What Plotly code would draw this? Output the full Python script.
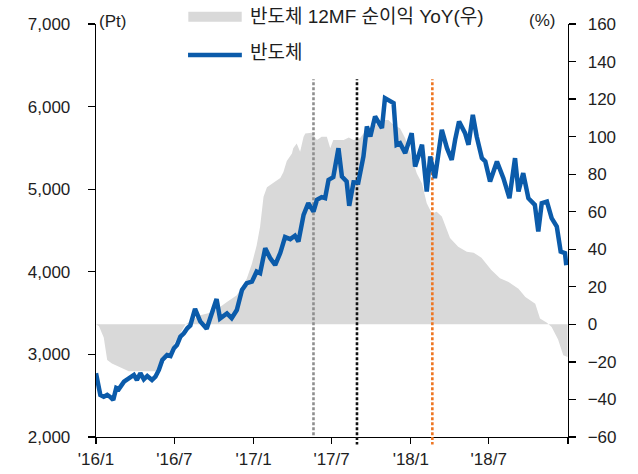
import plotly.graph_objects as go

# ---------------- data ----------------
semi_dates = [
    "2016-01-01", "2016-01-11", "2016-01-19", "2016-01-27", "2016-02-03", "2016-02-10",
    "2016-02-17", "2016-02-23", "2016-03-06", "2016-03-21", "2016-03-29", "2016-04-05",
    "2016-04-13", "2016-04-21", "2016-04-29", "2016-05-10", "2016-05-18", "2016-05-26",
    "2016-06-03", "2016-06-14", "2016-06-22", "2016-06-30", "2016-07-07", "2016-07-15",
    "2016-07-23", "2016-07-31", "2016-08-07", "2016-08-18", "2016-08-30", "2016-09-14",
    "2016-09-26", "2016-10-07", "2016-10-15", "2016-10-31", "2016-11-11", "2016-11-23",
    "2016-12-05", "2016-12-16", "2016-12-28", "2017-01-08", "2017-01-16", "2017-01-28",
    "2017-02-08", "2017-02-20", "2017-03-04", "2017-03-15", "2017-03-27", "2017-04-07",
    "2017-04-15", "2017-04-19", "2017-04-27", "2017-05-08", "2017-05-20", "2017-05-28",
    "2017-06-08", "2017-06-16", "2017-06-24", "2017-07-05", "2017-07-17", "2017-07-25",
    "2017-08-05", "2017-08-11", "2017-08-21", "2017-09-01", "2017-09-13", "2017-09-21",
    "2017-09-29", "2017-10-10", "2017-10-18", "2017-10-26", "2017-11-02", "2017-11-14",
    "2017-11-22", "2017-11-29", "2017-12-07", "2017-12-19", "2018-01-03", "2018-01-11",
    "2018-01-27", "2018-02-07", "2018-02-15", "2018-02-26", "2018-03-14", "2018-03-26",
    "2018-04-06", "2018-04-14", "2018-04-23", "2018-05-07", "2018-05-15", "2018-05-25",
    "2018-06-03", "2018-06-15", "2018-06-23", "2018-07-04", "2018-07-20", "2018-08-04",
    "2018-08-18", "2018-08-31", "2018-09-08", "2018-09-19", "2018-10-01", "2018-10-16",
    "2018-10-24", "2018-11-01", "2018-11-13", "2018-11-24", "2018-12-06", "2018-12-15",
    "2018-12-25", "2018-12-28",
]
semi_values = [
    2772, 2509, 2488, 2509, 2485, 2448,
    2594, 2580, 2670, 2730, 2751, 2690,
    2772, 2699, 2739, 2690, 2730, 2812,
    2933, 2993, 2981, 3075, 3115, 3215,
    3256, 3317, 3350, 3550, 3400, 3310,
    3478, 3670, 3435, 3495, 3438, 3537,
    3781, 3862, 3880, 4003, 3983, 4285,
    4170, 4082, 4230, 4420, 4395, 4437,
    4366, 4480, 4690, 4831, 4730, 4871,
    4904, 4891, 5113, 5146, 5497, 5154,
    5093, 4800, 5083, 5080, 5396, 5759,
    5638, 5880, 5820, 5740, 6103, 6062,
    6042, 5538, 5558, 5437, 5679, 5275,
    5538, 4972, 5396, 5134, 5719, 5497,
    5356, 5600, 5820, 5679, 5538, 5901,
    5638, 5376, 5336, 5093, 5336, 5134,
    4891, 5376, 4972, 5194, 4891, 4811,
    4487, 4831, 4851, 4649, 4548, 4245,
    4225, 4080,
]

yoy_dates = [
    "2016-01-01", "2016-01-08", "2016-01-19", "2016-01-27", "2016-02-07", "2016-03-02",
    "2016-03-17", "2016-04-12", "2016-05-18", "2016-05-30", "2016-06-18", "2016-07-03",
    "2016-07-19", "2016-07-27", "2016-08-30", "2016-09-29", "2016-10-31", "2016-11-23",
    "2016-12-16", "2016-12-28", "2017-01-08", "2017-01-16", "2017-01-24", "2017-02-01",
    "2017-02-16", "2017-03-04", "2017-03-11", "2017-03-19", "2017-03-31", "2017-04-03",
    "2017-04-11", "2017-04-19", "2017-04-27", "2017-05-01", "2017-05-16", "2017-05-28",
    "2017-06-08", "2017-06-20", "2017-06-28", "2017-07-05", "2017-07-29", "2017-08-10",
    "2017-08-21", "2017-09-05", "2017-09-13", "2017-10-06", "2017-10-29", "2017-11-10",
    "2017-11-22", "2017-12-07", "2017-12-19", "2017-12-31", "2018-01-15", "2018-01-27",
    "2018-02-07", "2018-02-19", "2018-03-02", "2018-03-14", "2018-04-02", "2018-04-21",
    "2018-05-11", "2018-05-27", "2018-06-14", "2018-07-07", "2018-07-27", "2018-08-16",
    "2018-09-08", "2018-09-24", "2018-10-17", "2018-10-28", "2018-11-13", "2018-11-24",
    "2018-12-09", "2018-12-21", "2018-12-31",
]
yoy_values = [
    0, -1, -7, -19, -20.8, -23.4,
    -25, -25, -25, -21.5, -17, -9.2,
    -3, 0, 4.8, 6.6, 11.9, 15.5,
    24.3, 32.3, 42, 52, 68, 73,
    75.5, 78, 81, 87, 91, 93.8,
    96.4, 92, 100, 101.7, 102.1, 98.2,
    100, 100, 93.8, 98.2, 98.2, 99.6,
    98.2, 99.1, 101.7, 105.3, 108.9, 108.9,
    106.2, 104.5, 99.1, 91.1, 80.4, 75.1,
    64.5, 59.1, 60, 57.4, 46, 41.4,
    38.7, 38.2, 35.5, 29, 24.5, 22.6,
    19, 14.6, 11, 3.1, 0.9, -1.4,
    -8, -16.5, -17.4,
]

event_dates = ["2017-05-20", "2017-08-29", "2018-02-20"]
event_colors = ["#8E8E8E", "#111111", "#EE7623"]

x_tick_vals = ["2016-01-01", "2016-07-01", "2017-01-01", "2017-07-01",
               "2018-01-01", "2018-07-01", "2019-01-01"]
x_tick_text = ["'16/1", "'16/7", "'17/1", "'17/7", "'18/1", "'18/7", ""]

name_area = "반도체 12MF 순이익 YoY(우)"
name_line = "반도체"

# ---------------- figure ----------------
FONT = "Liberation Sans, Arial, Noto Sans CJK KR, sans-serif"
TXT = "#1E1E1E"
BLUE = "#0B5BAA"
GRAY_FILL = "#D9D9D9"

fig = go.Figure()

# area (right axis, primary y so that it is drawn underneath)
fig.add_trace(go.Scatter(
    x=yoy_dates, y=yoy_values, yaxis="y", mode="lines",
    line=dict(width=0, color=GRAY_FILL), fill="tozeroy", fillcolor=GRAY_FILL,
    name=name_area, hoverinfo="skip",
))

# vertical dotted event lines (left axis, drawn over the area)
for d, c in zip(event_dates, event_colors):
    fig.add_trace(go.Scatter(
        x=[d, d], y=[1900, 6330], yaxis="y2", mode="lines",
        line=dict(color=c, width=2.6, dash="3px,2px"),
        showlegend=False, hoverinfo="skip",
    ))

# semiconductor index line (left axis)
fig.add_trace(go.Scatter(
    x=semi_dates, y=semi_values, yaxis="y2", mode="lines",
    line=dict(color=BLUE, width=4.5, shape="linear"),
    name=name_line,
))

# extension of event lines just below the x axis
ext = [0.0, -0.018, -0.018]
for d, c, e in zip(event_dates, event_colors, ext):
    if e < 0:
        fig.add_shape(type="line", xref="x", yref="paper", x0=d, x1=d, y0=0, y1=e,
                      line=dict(color=c, width=2.6, dash="3px,2px"), layer="above")

fig.update_layout(
    width=638, height=474,
    margin=dict(l=96, r=70, t=24, b=37, pad=0),
    paper_bgcolor="white", plot_bgcolor="white",
    showlegend=False,
    font=dict(family=FONT, size=17, color=TXT),
    xaxis=dict(
        type="date", range=["2016-01-01", "2019-01-01"], automargin=False,
        tickmode="array", tickvals=x_tick_vals, ticktext=x_tick_text,
        ticks="outside", ticklen=6, tickwidth=1.3, tickcolor="black",
        showline=True, linecolor="black", linewidth=1.3,
        showgrid=False, zeroline=False,
        tickfont=dict(family=FONT, size=17, color=TXT),
    ),
    yaxis=dict(
        side="right", range=[-60, 160], dtick=20, tick0=0, automargin=False,
        ticks="outside", ticklen=7, tickwidth=1.3, tickcolor="black",
        showline=True, linecolor="black", linewidth=1.3,
        showgrid=False, zeroline=False,
        tickfont=dict(family=FONT, size=17, color=TXT),
        ticklabelstandoff=8,
    ),
    yaxis2=dict(
        overlaying="y", side="left", anchor="x", automargin=False,
        range=[2000, 7000], dtick=1000, tickformat=",d",
        ticks="outside", ticklen=7, tickwidth=1.3, tickcolor="black",
        showline=True, linecolor="black", linewidth=1.3,
        showgrid=False, zeroline=False,
        tickfont=dict(family=FONT, size=17, color=TXT),
        ticklabelstandoff=14,
    ),
)

# unit labels
fig.add_annotation(text="(Pt)", xref="paper", yref="paper", x=0.002, y=1.007,
                   xanchor="left", yanchor="middle", showarrow=False,
                   font=dict(family=FONT, size=17, color=TXT))
fig.add_annotation(text="(%)", xref="paper", yref="paper", x=0.977, y=1.009,
                   xanchor="right", yanchor="middle", showarrow=False,
                   font=dict(family=FONT, size=17, color=TXT))

# manual legend
fig.add_shape(type="rect", xref="paper", yref="paper",
              x0=0.1956, x1=0.3087, y0=1.0056, y1=1.0298,
              line=dict(width=0), fillcolor=GRAY_FILL, layer="above")
fig.add_annotation(text=name_area, xref="paper", yref="paper", x=0.322, y=1.019,
                   xanchor="left", yanchor="middle", showarrow=False,
                   font=dict(family=FONT, size=19, color=TXT))
fig.add_shape(type="line", xref="paper", yref="paper",
              x0=0.195, x1=0.309, y0=0.925, y1=0.925,
              line=dict(color=BLUE, width=4.5), layer="above")
fig.add_annotation(text=name_line, xref="paper", yref="paper", x=0.322, y=0.930,
                   xanchor="left", yanchor="middle", showarrow=False,
                   font=dict(family=FONT, size=19, color=TXT))

# remove the default page margin so the 638x474 figure fills the window exactly
fig.write_html("out.html",
               config={"displayModeBar": False, "staticPlot": True},
               post_script="document.body.style.margin='0px';document.body.style.overflow='hidden';")
